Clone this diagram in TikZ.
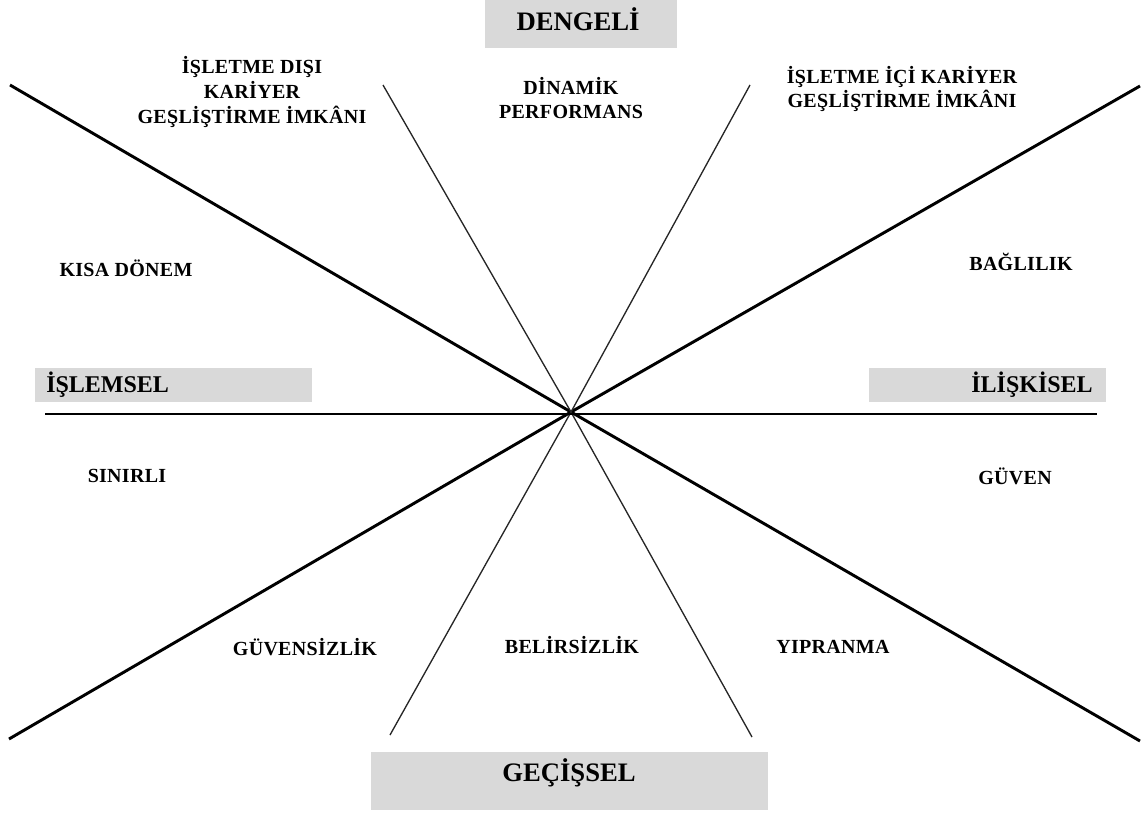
\documentclass[tikz,border=0pt]{standalone}
\usepackage{fontspec}
\setmainfont{Liberation Serif}
\newfontfamily\labfont[LetterSpace=1.5]{Liberation Serif}
\definecolor{boxgray}{HTML}{D9D9D9}
\tikzset{
  head/.style={fill=boxgray, inner sep=0pt, font=\bfseries\fontsize{20}{22}\selectfont},
  sidehead/.style={fill=boxgray, inner sep=0pt, font=\bfseries\fontsize{18}{20}\selectfont},
  lab/.style={align=center, inner sep=0pt, font=\labfont\bfseries\fontsize{15}{18.5}\selectfont},
  thickline/.style={line width=2.2pt},
  thinline/.style={line width=1pt, black!85},
  midline/.style={line width=1.3pt},
}
\begin{document}
\begin{tikzpicture}[x=0.75pt, y=-0.75pt]
\useasboundingbox (0,0) rectangle (1143,814);

% axis end points
\coordinate (c) at (571,412);
\coordinate (a1) at (10,85);
\coordinate (a2) at (1140,741);
\coordinate (b1) at (9,739);
\coordinate (b2) at (1140,86);
\coordinate (t1) at (383,85);
\coordinate (t2) at (752,737);
\coordinate (u1) at (750,85);
\coordinate (u2) at (390,735);
\coordinate (h1) at (45,414);
\coordinate (h2) at (1097,414);

% gray heading boxes
\fill[boxgray] (485,0) rectangle (677,48);
\fill[boxgray] (35,368) rectangle (312,402);
\fill[boxgray] (869,368) rectangle (1106,402);
\fill[boxgray] (371,752) rectangle (768,810);

\node[head] (dengeli) at (578,19) {DENGELİ};
\node[head] (gecissel) at (569,773) {GEÇİŞSEL};
\node[sidehead, anchor=west] (islemsel) at (46,385) {İŞLEMSEL};
\node[sidehead, anchor=east] (iliskisel) at (1093,385) {İLİŞKİSEL};

% radial lines
\draw[thickline] (a1) -- (c) -- (a2);
\draw[thickline] (b1) -- (c) -- (b2);
\draw[thinline] (t1) -- (c) -- (t2);
\draw[thinline] (u1) -- (c) -- (u2);
\draw[midline] (h1) -- (h2);

% sector labels
\node[lab] (disi) at (252,92) {İŞLETME DIŞI\\KARİYER\\GEŞLİŞTİRME İMKÂNI};
\node[lab] (dinamik) at (571,98) {DİNAMİK\\PERFORMANS};
\node[lab] (ici) at (902,89) {İŞLETME İÇİ KARİYER\\GEŞLİŞTİRME İMKÂNI};
\node[lab] (kisa) at (126,268) {KISA DÖNEM};
\node[lab] (bag) at (1021,262) {BAĞLILIK};
\node[lab] (sinirli) at (127,476) {SINIRLI};
\node[lab] (guven) at (1015,476) {GÜVEN};
\node[lab] (guvensiz) at (305,647) {GÜVENSİZLİK};
\node[lab] (belirsiz) at (572,645) {BELİRSİZLİK};
\node[lab] (yipranma) at (833,647) {YIPRANMA};
\end{tikzpicture}
\end{document}
